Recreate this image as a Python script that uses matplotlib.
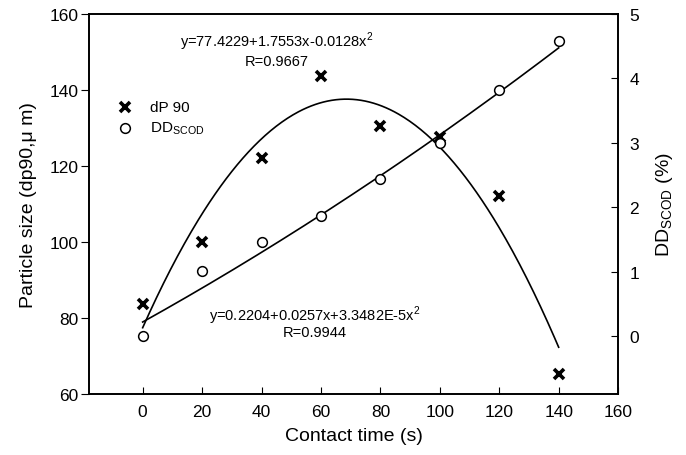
import numpy as np
import matplotlib.pyplot as plt

plt.rcParams['font.family'] = ['Liberation Sans', 'DejaVu Sans']

# measured data
time_s = [0, 20, 40, 60, 80, 100, 120, 140]
dp90 = [83.7, 100.0, 122.0, 143.6, 130.4, 127.6, 112.0, 65.3]
dd_scod = [0.01, 1.02, 1.46, 1.86, 2.44, 3.0, 3.82, 4.58]

# fitted polynomial coefficients (c0, c1, c2) as printed on the chart
dp90_fit = [77.4229, 1.7553, -0.0128]
dd_fit = [0.2204, 0.0257, 3.3482e-5]

fig = plt.figure(figsize=(6.86, 4.56), dpi=100)
ax = fig.add_axes([0.130, 0.134, 0.771, 0.833])
ax2 = ax.twinx()

xx = np.linspace(0, 140, 300)
ax.plot(xx, np.polyval(dp90_fit[::-1], xx), color='black', lw=1.2)
ax.plot(time_s, dp90, linestyle='none', marker='x', color='black',
        markersize=6.5, markeredgewidth=2.6, label='dP 90')
ax2.plot(xx, np.polyval(dd_fit[::-1], xx), color='black', lw=1.2)
ax2.plot(time_s, dd_scod, linestyle='none', marker='o', markerfacecolor='white',
         markeredgecolor='black', markersize=7, markeredgewidth=1.1)

ax.set_xlim(-18, 160)
ax.set_ylim(60, 160)
ax2.set_ylim(-0.895, 5)
ax.set_xticks(range(0, 161, 20))
ax.set_yticks(range(60, 161, 20))
ax2.set_yticks(range(0, 6))

ax.tick_params(axis='x', direction='in', labelsize=12.5, length=5, pad=7)
ax.tick_params(axis='y', direction='out', labelsize=12.5, length=6, pad=1.5)
ax2.tick_params(axis='y', direction='in', labelsize=12.5, length=5, pad=8)
for a in (ax, ax2):
    for s in a.spines.values():
        s.set_linewidth(1.2)

ax.set_xlabel('Contact time (s)', fontsize=14, labelpad=6)
ax.set_ylabel('Particle size (dp90,\u03bc m)', fontsize=14, labelpad=9)
ax2.set_ylabel('DD$_{\\mathregular{SCOD}}$ (%)', fontsize=14, labelpad=11)

ax.text(45, 153.0, 'y=77.4229+1.7553x-0.0128x$^{\\mathregular{2}}$', ha='center',
        va='center', fontsize=10.5)
ax.text(45, 147.6, 'R=0.9667', ha='center', va='center', fontsize=10.5)
ax.text(58, 80.7, 'y=0.2204+0.0257x+3.3482E-5x$^{\\mathregular{2}}$', ha='center',
        va='center', fontsize=10.5)
ax.text(58, 76.2, 'R=0.9944', ha='center', va='center', fontsize=10.5)

# legend drawn by hand
ax.plot([-6], [135.5], marker='x', color='black', markersize=6.5, markeredgewidth=2.6)
ax.plot([-6], [130], marker='o', markerfacecolor='white', markeredgecolor='black',
        markersize=7, markeredgewidth=1.1)
ax.text(2.5, 135.5, 'dP 90', va='center', fontsize=11)
ax.text(2.5, 130, 'DD$_{\\mathregular{SCOD}}$', va='center', fontsize=11)

fig.savefig('out.png', dpi=100)
